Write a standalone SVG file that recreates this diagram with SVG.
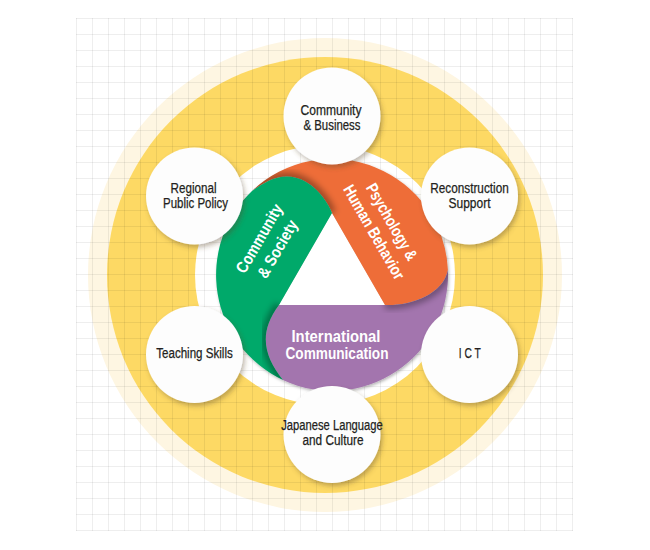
<svg xmlns="http://www.w3.org/2000/svg" width="650" height="550" viewBox="0 0 650 550">
<defs>
<style>
.lbl{font-family:"Liberation Sans",Arial,sans-serif;font-size:14px;fill:#231F20;stroke:#231F20;stroke-width:.25;text-anchor:middle}
.wl{font-family:"Liberation Sans",Arial,sans-serif;font-size:16.5px;font-weight:bold;fill:#FFFFFF;text-anchor:middle}
.node{fill:#FDFDFD;filter:url(#cs)}
.capsh{fill:none;stroke:#000;stroke-opacity:.35;stroke-width:8;filter:url(#bl)}
</style>
<pattern id="grid" x="76" y="18" width="16" height="16" patternUnits="userSpaceOnUse">
<path d="M0 .5H16M.5 0V16" fill="none" stroke="#000" stroke-opacity=".065" stroke-width="1"/>
</pattern>
<filter id="cs" x="-30%" y="-30%" width="160%" height="160%">
<feDropShadow dx="2" dy="3" stdDeviation="2.5" flood-color="#5a4a20" flood-opacity=".38"/>
</filter>
<filter id="ws" x="-20%" y="-20%" width="140%" height="140%">
<feDropShadow dx="1" dy="1.5" stdDeviation="1.5" flood-color="#000" flood-opacity=".3"/>
</filter>
<filter id="bl" x="-20%" y="-20%" width="140%" height="140%">
<feGaussianBlur stdDeviation="3"/>
</filter>
<clipPath id="clipO"><path d="M252,191C264,183 273,176.5 287,176.5C312,177 328,202 332,213L385,305C410,306 443,295 447.9,270A116 116 0 0 0 252,191Z"/></clipPath>
<clipPath id="clipP"><path d="M279,305L385,305C410,306 443,295 447.9,270A116 116 0 0 1 283,380C264,356 258,333 279,305Z"/></clipPath>
<clipPath id="clipG"><path d="M252,191A116 116 0 0 0 283,380C264,356 258,333 279,305L332,213C328,202 312,177 287,176.5C273,176.5 264,183 252,191Z"/></clipPath>
</defs>

<g id="background">
<rect x="0" y="0" width="650" height="550" fill="#FFFFFF"/>
<circle cx="325" cy="275" r="237" fill="#FEF6E2"/>
<circle cx="325" cy="275" r="218" fill="#FDD964"/>
<circle cx="325" cy="275" r="130" fill="#FFFFFF"/>
<rect x="76" y="18" width="497" height="513" fill="url(#grid)"/>
</g>

<g id="wheel">
<g filter="url(#ws)">
<path d="M332,213L385,305L279,305Z" fill="#FFFFFF"/>
<path id="blade-orange" d="M252,191C264,183 273,176.5 287,176.5C312,177 328,202 332,213L385,305C410,306 443,295 447.9,270A116 116 0 0 0 252,191Z" fill="#EE6D37"/>
<path id="blade-purple" d="M279,305L385,305C410,306 443,295 447.9,270A116 116 0 0 1 283,380C264,356 258,333 279,305Z" fill="#A375AE"/>
<path id="blade-green" d="M252,191A116 116 0 0 0 283,380C264,356 258,333 279,305L332,213C328,202 312,177 287,176.5C273,176.5 264,183 252,191Z" fill="#00A96A"/>
</g>
<g clip-path="url(#clipO)"><path class="capsh" d="M252,191C264,183 273,176.5 287,176.5C312,177 328,202 332,213"/></g>
<g clip-path="url(#clipP)"><path class="capsh" d="M385,305C410,306 443,295 447.9,270"/></g>
<g clip-path="url(#clipG)"><path class="capsh" d="M279,305C258,333 264,356 283,380"/></g>
<g transform="translate(268,243.5) rotate(-60)">
<text class="wl" x="0" y="-4.5" textLength="77" lengthAdjust="spacingAndGlyphs">Community</text>
<text class="wl" x="0" y="16.5" textLength="64" lengthAdjust="spacingAndGlyphs">&amp; Society</text>
</g>
<g transform="translate(383,227) rotate(60)">
<text class="wl" x="0" y="-4.5" textLength="86" lengthAdjust="spacingAndGlyphs">Psychology &amp;</text>
<text class="wl" x="0" y="16" textLength="106" lengthAdjust="spacingAndGlyphs">Human Behavior</text>
</g>
<text class="wl" x="336" y="341.5" textLength="89" lengthAdjust="spacingAndGlyphs">International</text>
<text class="wl" x="337" y="359" textLength="103" lengthAdjust="spacingAndGlyphs">Communication</text>
</g>

<g id="node-community-business">
<circle class="node" cx="332" cy="116" r="48.5"/>
<text class="lbl" x="331" y="114.5" textLength="61" lengthAdjust="spacingAndGlyphs">Community</text>
<text class="lbl" x="332" y="129.5" textLength="57" lengthAdjust="spacingAndGlyphs">&amp; Business</text>
</g>
<g id="node-reconstruction">
<circle class="node" cx="469.5" cy="196" r="48.5"/>
<text class="lbl" x="469.5" y="192.8" textLength="78.5" lengthAdjust="spacingAndGlyphs">Reconstruction</text>
<text class="lbl" x="469.5" y="207.8" textLength="42" lengthAdjust="spacingAndGlyphs">Support</text>
</g>
<g id="node-ict">
<circle class="node" cx="469.5" cy="354.5" r="48.5"/>
<text class="lbl" x="469.7" y="358.3" textLength="22" lengthAdjust="spacingAndGlyphs">I C T</text>
</g>
<g id="node-japanese">
<circle class="node" cx="332" cy="434.5" r="48.5"/>
<text class="lbl" x="332" y="430" textLength="101.5" lengthAdjust="spacingAndGlyphs">Japanese Language</text>
<text class="lbl" x="333" y="445" textLength="61" lengthAdjust="spacingAndGlyphs">and Culture</text>
</g>
<g id="node-teaching">
<circle class="node" cx="194.5" cy="354.5" r="48.5"/>
<text class="lbl" x="194.5" y="358.3" textLength="76.5" lengthAdjust="spacingAndGlyphs">Teaching Skills</text>
</g>
<g id="node-regional">
<circle class="node" cx="194.5" cy="196" r="48.5"/>
<text class="lbl" x="193.5" y="192.5" textLength="46" lengthAdjust="spacingAndGlyphs">Regional</text>
<text class="lbl" x="195.5" y="207.5" textLength="65" lengthAdjust="spacingAndGlyphs">Public Policy</text>
</g>

<g id="connectors"></g>
</svg>
